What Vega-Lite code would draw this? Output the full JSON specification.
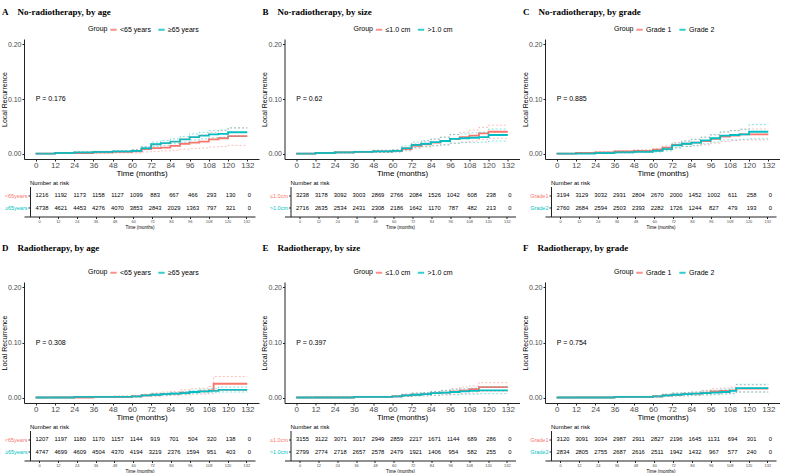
{
"$schema":"https://vega.github.io/schema/vega-lite/v6.json",
"padding":{"left":0,"top":7,"right":0,"bottom":0},
"config":{
 "view":{"stroke":null},
 "font":"Liberation Sans",
 "axis":{"grid":false,"domainColor":"#222","tickColor":"#222","labelColor":"#4D4D4D","titleColor":"black","titleFontWeight":"normal","labelFont":"Liberation Sans","titleFont":"Liberation Sans","tickSize":2},
 "axisX":{"labelFontSize":8,"titleFontSize":8,"labelPadding":0,"titlePadding":0,"labelFlush":false},
 "axisY":{"labelFontSize":7,"titleFontSize":7,"labelPadding":1,"titlePadding":3,"minExtent":14,"maxExtent":14},
 "title":{"font":"Liberation Serif","fontWeight":"bold","fontSize":9,"anchor":"start","color":"black","offset":8.5,"dx":2,"frame":"bounds"},
 "legend":{"orient":"none","direction":"horizontal","titleOrient":"left","symbolType":"stroke","symbolStrokeWidth":2,"symbolSize":40,"labelFontSize":7,"titleFontSize":7,"titleFontWeight":"normal","titleColor":"black","labelColor":"black","columnPadding":3,"titlePadding":1,"labelOffset":2,"legendY":-14}
},
"datasets":{
 "pvals":[
  {"p":"A","t":0,"e":0.1,"label":"P = 0.176"},{"p":"B","t":0,"e":0.1,"label":"P = 0.62"},{"p":"C","t":0,"e":0.1,"label":"P = 0.885"},
  {"p":"D","t":0,"e":0.1,"label":"P = 0.308"},{"p":"E","t":0,"e":0.1,"label":"P = 0.397"},{"p":"F","t":0,"e":0.1,"label":"P = 0.754"}
 ],
 "curves":[
  {"p":"A","g":"<65 years","t":0,"e":0,"l":0,"h":0},{"p":"A","g":"<65 years","t":12,"e":0.001,"l":0,"h":0.002},{"p":"A","g":"<65 years","t":24,"e":0.001,"l":0,"h":0.003},{"p":"A","g":"<65 years","t":36,"e":0.002,"l":0,"h":0.004},{"p":"A","g":"<65 years","t":48,"e":0.003,"l":0.001,"h":0.005},{"p":"A","g":"<65 years","t":60,"e":0.004,"l":0.001,"h":0.007},{"p":"A","g":"<65 years","t":66,"e":0.008,"l":0.003,"h":0.012},{"p":"A","g":"<65 years","t":72,"e":0.010,"l":0.004,"h":0.016},{"p":"A","g":"<65 years","t":78,"e":0.011,"l":0.005,"h":0.018},{"p":"A","g":"<65 years","t":84,"e":0.014,"l":0.006,"h":0.022},{"p":"A","g":"<65 years","t":90,"e":0.018,"l":0.008,"h":0.027},{"p":"A","g":"<65 years","t":96,"e":0.020,"l":0.009,"h":0.031},{"p":"A","g":"<65 years","t":102,"e":0.022,"l":0.010,"h":0.034},{"p":"A","g":"<65 years","t":108,"e":0.026,"l":0.012,"h":0.039},{"p":"A","g":"<65 years","t":114,"e":0.028,"l":0.013,"h":0.042},{"p":"A","g":"<65 years","t":120,"e":0.032,"l":0.015,"h":0.047},{"p":"A","g":"<65 years","t":132,"e":0.032,"l":0.015,"h":0.047},
  {"p":"A","g":"≥65 years","t":0,"e":0,"l":0,"h":0},{"p":"A","g":"≥65 years","t":12,"e":0.001,"l":0,"h":0.002},{"p":"A","g":"≥65 years","t":24,"e":0.002,"l":0.001,"h":0.003},{"p":"A","g":"≥65 years","t":36,"e":0.003,"l":0.002,"h":0.004},{"p":"A","g":"≥65 years","t":48,"e":0.004,"l":0.003,"h":0.005},{"p":"A","g":"≥65 years","t":60,"e":0.005,"l":0.004,"h":0.007},{"p":"A","g":"≥65 years","t":66,"e":0.010,"l":0.007,"h":0.013},{"p":"A","g":"≥65 years","t":72,"e":0.017,"l":0.013,"h":0.021},{"p":"A","g":"≥65 years","t":78,"e":0.019,"l":0.015,"h":0.024},{"p":"A","g":"≥65 years","t":84,"e":0.022,"l":0.018,"h":0.027},{"p":"A","g":"≥65 years","t":90,"e":0.026,"l":0.021,"h":0.031},{"p":"A","g":"≥65 years","t":96,"e":0.030,"l":0.025,"h":0.036},{"p":"A","g":"≥65 years","t":102,"e":0.033,"l":0.027,"h":0.039},{"p":"A","g":"≥65 years","t":108,"e":0.035,"l":0.029,"h":0.042},{"p":"A","g":"≥65 years","t":114,"e":0.036,"l":0.030,"h":0.043},{"p":"A","g":"≥65 years","t":120,"e":0.039,"l":0.032,"h":0.047},{"p":"A","g":"≥65 years","t":132,"e":0.039,"l":0.032,"h":0.047},
  {"p":"B","g":"≤1.0 cm","t":0,"e":0,"l":0,"h":0},{"p":"B","g":"≤1.0 cm","t":12,"e":0.001,"l":0,"h":0.002},{"p":"B","g":"≤1.0 cm","t":24,"e":0.002,"l":0.001,"h":0.003},{"p":"B","g":"≤1.0 cm","t":36,"e":0.003,"l":0.002,"h":0.004},{"p":"B","g":"≤1.0 cm","t":48,"e":0.004,"l":0.002,"h":0.006},{"p":"B","g":"≤1.0 cm","t":60,"e":0.005,"l":0.003,"h":0.007},{"p":"B","g":"≤1.0 cm","t":66,"e":0.008,"l":0.005,"h":0.011},{"p":"B","g":"≤1.0 cm","t":72,"e":0.014,"l":0.010,"h":0.018},{"p":"B","g":"≤1.0 cm","t":78,"e":0.017,"l":0.012,"h":0.022},{"p":"B","g":"≤1.0 cm","t":84,"e":0.020,"l":0.014,"h":0.026},{"p":"B","g":"≤1.0 cm","t":90,"e":0.023,"l":0.016,"h":0.030},{"p":"B","g":"≤1.0 cm","t":96,"e":0.027,"l":0.019,"h":0.035},{"p":"B","g":"≤1.0 cm","t":102,"e":0.030,"l":0.021,"h":0.039},{"p":"B","g":"≤1.0 cm","t":108,"e":0.033,"l":0.023,"h":0.043},{"p":"B","g":"≤1.0 cm","t":114,"e":0.037,"l":0.026,"h":0.048},{"p":"B","g":"≤1.0 cm","t":120,"e":0.040,"l":0.028,"h":0.052},{"p":"B","g":"≤1.0 cm","t":132,"e":0.040,"l":0.028,"h":0.052},
  {"p":"B","g":">1.0 cm","t":0,"e":0,"l":0,"h":0},{"p":"B","g":">1.0 cm","t":12,"e":0.001,"l":0,"h":0.002},{"p":"B","g":">1.0 cm","t":24,"e":0.002,"l":0.001,"h":0.003},{"p":"B","g":">1.0 cm","t":36,"e":0.003,"l":0.002,"h":0.004},{"p":"B","g":">1.0 cm","t":48,"e":0.004,"l":0.002,"h":0.006},{"p":"B","g":">1.0 cm","t":60,"e":0.005,"l":0.003,"h":0.007},{"p":"B","g":">1.0 cm","t":66,"e":0.010,"l":0.006,"h":0.014},{"p":"B","g":">1.0 cm","t":72,"e":0.016,"l":0.011,"h":0.021},{"p":"B","g":">1.0 cm","t":78,"e":0.018,"l":0.013,"h":0.024},{"p":"B","g":">1.0 cm","t":84,"e":0.021,"l":0.015,"h":0.027},{"p":"B","g":">1.0 cm","t":90,"e":0.023,"l":0.016,"h":0.030},{"p":"B","g":">1.0 cm","t":96,"e":0.027,"l":0.019,"h":0.035},{"p":"B","g":">1.0 cm","t":102,"e":0.028,"l":0.020,"h":0.036},{"p":"B","g":">1.0 cm","t":108,"e":0.029,"l":0.020,"h":0.038},{"p":"B","g":">1.0 cm","t":114,"e":0.030,"l":0.021,"h":0.039},{"p":"B","g":">1.0 cm","t":120,"e":0.034,"l":0.023,"h":0.045},{"p":"B","g":">1.0 cm","t":132,"e":0.034,"l":0.023,"h":0.045},
  {"p":"C","g":"Grade 1","t":0,"e":0,"l":0,"h":0},{"p":"C","g":"Grade 1","t":12,"e":0.001,"l":0,"h":0.002},{"p":"C","g":"Grade 1","t":24,"e":0.002,"l":0.001,"h":0.003},{"p":"C","g":"Grade 1","t":36,"e":0.004,"l":0.002,"h":0.005},{"p":"C","g":"Grade 1","t":48,"e":0.005,"l":0.003,"h":0.007},{"p":"C","g":"Grade 1","t":60,"e":0.007,"l":0.004,"h":0.009},{"p":"C","g":"Grade 1","t":66,"e":0.011,"l":0.007,"h":0.014},{"p":"C","g":"Grade 1","t":72,"e":0.016,"l":0.011,"h":0.020},{"p":"C","g":"Grade 1","t":78,"e":0.018,"l":0.013,"h":0.023},{"p":"C","g":"Grade 1","t":84,"e":0.020,"l":0.014,"h":0.026},{"p":"C","g":"Grade 1","t":90,"e":0.023,"l":0.016,"h":0.030},{"p":"C","g":"Grade 1","t":96,"e":0.027,"l":0.019,"h":0.034},{"p":"C","g":"Grade 1","t":102,"e":0.031,"l":0.022,"h":0.039},{"p":"C","g":"Grade 1","t":108,"e":0.033,"l":0.024,"h":0.042},{"p":"C","g":"Grade 1","t":114,"e":0.035,"l":0.025,"h":0.045},{"p":"C","g":"Grade 1","t":120,"e":0.035,"l":0.025,"h":0.045},{"p":"C","g":"Grade 1","t":132,"e":0.035,"l":0.025,"h":0.045},
  {"p":"C","g":"Grade 2","t":0,"e":0,"l":0,"h":0},{"p":"C","g":"Grade 2","t":12,"e":0,"l":0,"h":0.001},{"p":"C","g":"Grade 2","t":24,"e":0.001,"l":0,"h":0.002},{"p":"C","g":"Grade 2","t":36,"e":0.002,"l":0.001,"h":0.003},{"p":"C","g":"Grade 2","t":48,"e":0.003,"l":0.002,"h":0.005},{"p":"C","g":"Grade 2","t":60,"e":0.005,"l":0.003,"h":0.007},{"p":"C","g":"Grade 2","t":66,"e":0.008,"l":0.005,"h":0.011},{"p":"C","g":"Grade 2","t":72,"e":0.015,"l":0.010,"h":0.019},{"p":"C","g":"Grade 2","t":78,"e":0.018,"l":0.013,"h":0.023},{"p":"C","g":"Grade 2","t":84,"e":0.020,"l":0.015,"h":0.026},{"p":"C","g":"Grade 2","t":90,"e":0.024,"l":0.018,"h":0.030},{"p":"C","g":"Grade 2","t":96,"e":0.028,"l":0.021,"h":0.035},{"p":"C","g":"Grade 2","t":102,"e":0.033,"l":0.025,"h":0.040},{"p":"C","g":"Grade 2","t":108,"e":0.034,"l":0.025,"h":0.042},{"p":"C","g":"Grade 2","t":114,"e":0.035,"l":0.026,"h":0.044},{"p":"C","g":"Grade 2","t":120,"e":0.040,"l":0.027,"h":0.053},{"p":"C","g":"Grade 2","t":132,"e":0.040,"l":0.027,"h":0.053},
  {"p":"D","g":"<65 years","t":0,"e":0,"l":0,"h":0},{"p":"D","g":"<65 years","t":12,"e":0,"l":0,"h":0.001},{"p":"D","g":"<65 years","t":24,"e":0,"l":0,"h":0.001},{"p":"D","g":"<65 years","t":36,"e":0.001,"l":0,"h":0.002},{"p":"D","g":"<65 years","t":48,"e":0.001,"l":0,"h":0.003},{"p":"D","g":"<65 years","t":60,"e":0.002,"l":0.001,"h":0.004},{"p":"D","g":"<65 years","t":66,"e":0.004,"l":0.002,"h":0.006},{"p":"D","g":"<65 years","t":72,"e":0.005,"l":0.002,"h":0.008},{"p":"D","g":"<65 years","t":78,"e":0.006,"l":0.003,"h":0.010},{"p":"D","g":"<65 years","t":84,"e":0.007,"l":0.004,"h":0.011},{"p":"D","g":"<65 years","t":90,"e":0.009,"l":0.005,"h":0.014},{"p":"D","g":"<65 years","t":96,"e":0.010,"l":0.006,"h":0.016},{"p":"D","g":"<65 years","t":102,"e":0.011,"l":0.006,"h":0.017},{"p":"D","g":"<65 years","t":108,"e":0.013,"l":0.007,"h":0.020},{"p":"D","g":"<65 years","t":111,"e":0.025,"l":0.013,"h":0.038},{"p":"D","g":"<65 years","t":120,"e":0.025,"l":0.013,"h":0.038},{"p":"D","g":"<65 years","t":132,"e":0.025,"l":0.013,"h":0.038},
  {"p":"D","g":"≥65 years","t":0,"e":0,"l":0,"h":0},{"p":"D","g":"≥65 years","t":12,"e":0,"l":0,"h":0.001},{"p":"D","g":"≥65 years","t":24,"e":0.001,"l":0,"h":0.001},{"p":"D","g":"≥65 years","t":36,"e":0.001,"l":0,"h":0.002},{"p":"D","g":"≥65 years","t":48,"e":0.001,"l":0.001,"h":0.002},{"p":"D","g":"≥65 years","t":60,"e":0.002,"l":0.001,"h":0.003},{"p":"D","g":"≥65 years","t":66,"e":0.004,"l":0.003,"h":0.005},{"p":"D","g":"≥65 years","t":72,"e":0.005,"l":0.004,"h":0.007},{"p":"D","g":"≥65 years","t":78,"e":0.006,"l":0.004,"h":0.008},{"p":"D","g":"≥65 years","t":84,"e":0.007,"l":0.005,"h":0.009},{"p":"D","g":"≥65 years","t":90,"e":0.008,"l":0.006,"h":0.011},{"p":"D","g":"≥65 years","t":96,"e":0.010,"l":0.007,"h":0.013},{"p":"D","g":"≥65 years","t":102,"e":0.011,"l":0.008,"h":0.015},{"p":"D","g":"≥65 years","t":108,"e":0.012,"l":0.009,"h":0.016},{"p":"D","g":"≥65 years","t":114,"e":0.014,"l":0.010,"h":0.019},{"p":"D","g":"≥65 years","t":120,"e":0.014,"l":0.010,"h":0.019},{"p":"D","g":"≥65 years","t":132,"e":0.014,"l":0.010,"h":0.019},
  {"p":"E","g":"≤1.0 cm","t":0,"e":0,"l":0,"h":0},{"p":"E","g":"≤1.0 cm","t":12,"e":0,"l":0,"h":0.001},{"p":"E","g":"≤1.0 cm","t":24,"e":0,"l":0,"h":0.001},{"p":"E","g":"≤1.0 cm","t":36,"e":0.001,"l":0,"h":0.002},{"p":"E","g":"≤1.0 cm","t":48,"e":0.001,"l":0,"h":0.002},{"p":"E","g":"≤1.0 cm","t":60,"e":0.002,"l":0.001,"h":0.003},{"p":"E","g":"≤1.0 cm","t":66,"e":0.004,"l":0.002,"h":0.006},{"p":"E","g":"≤1.0 cm","t":72,"e":0.005,"l":0.003,"h":0.008},{"p":"E","g":"≤1.0 cm","t":78,"e":0.006,"l":0.003,"h":0.009},{"p":"E","g":"≤1.0 cm","t":84,"e":0.008,"l":0.004,"h":0.011},{"p":"E","g":"≤1.0 cm","t":90,"e":0.009,"l":0.005,"h":0.013},{"p":"E","g":"≤1.0 cm","t":96,"e":0.011,"l":0.006,"h":0.016},{"p":"E","g":"≤1.0 cm","t":102,"e":0.013,"l":0.007,"h":0.019},{"p":"E","g":"≤1.0 cm","t":108,"e":0.015,"l":0.008,"h":0.021},{"p":"E","g":"≤1.0 cm","t":114,"e":0.019,"l":0.011,"h":0.027},{"p":"E","g":"≤1.0 cm","t":120,"e":0.019,"l":0.011,"h":0.027},{"p":"E","g":"≤1.0 cm","t":132,"e":0.019,"l":0.011,"h":0.027},
  {"p":"E","g":">1.0 cm","t":0,"e":0,"l":0,"h":0},{"p":"E","g":">1.0 cm","t":12,"e":0,"l":0,"h":0.001},{"p":"E","g":">1.0 cm","t":24,"e":0,"l":0,"h":0.001},{"p":"E","g":">1.0 cm","t":36,"e":0.001,"l":0,"h":0.002},{"p":"E","g":">1.0 cm","t":48,"e":0.001,"l":0,"h":0.002},{"p":"E","g":">1.0 cm","t":60,"e":0.002,"l":0.001,"h":0.003},{"p":"E","g":">1.0 cm","t":66,"e":0.004,"l":0.002,"h":0.006},{"p":"E","g":">1.0 cm","t":72,"e":0.005,"l":0.003,"h":0.008},{"p":"E","g":">1.0 cm","t":78,"e":0.006,"l":0.003,"h":0.009},{"p":"E","g":">1.0 cm","t":84,"e":0.008,"l":0.004,"h":0.011},{"p":"E","g":">1.0 cm","t":90,"e":0.009,"l":0.005,"h":0.013},{"p":"E","g":">1.0 cm","t":96,"e":0.010,"l":0.005,"h":0.015},{"p":"E","g":">1.0 cm","t":102,"e":0.011,"l":0.006,"h":0.016},{"p":"E","g":">1.0 cm","t":108,"e":0.012,"l":0.006,"h":0.017},{"p":"E","g":">1.0 cm","t":114,"e":0.013,"l":0.007,"h":0.019},{"p":"E","g":">1.0 cm","t":120,"e":0.013,"l":0.007,"h":0.019},{"p":"E","g":">1.0 cm","t":132,"e":0.013,"l":0.007,"h":0.019},
  {"p":"F","g":"Grade 1","t":0,"e":0,"l":0,"h":0},{"p":"F","g":"Grade 1","t":12,"e":0,"l":0,"h":0.001},{"p":"F","g":"Grade 1","t":24,"e":0,"l":0,"h":0.001},{"p":"F","g":"Grade 1","t":36,"e":0.001,"l":0,"h":0.002},{"p":"F","g":"Grade 1","t":48,"e":0.001,"l":0,"h":0.002},{"p":"F","g":"Grade 1","t":60,"e":0.002,"l":0.001,"h":0.003},{"p":"F","g":"Grade 1","t":66,"e":0.004,"l":0.002,"h":0.006},{"p":"F","g":"Grade 1","t":72,"e":0.005,"l":0.003,"h":0.008},{"p":"F","g":"Grade 1","t":78,"e":0.006,"l":0.003,"h":0.009},{"p":"F","g":"Grade 1","t":84,"e":0.007,"l":0.004,"h":0.010},{"p":"F","g":"Grade 1","t":90,"e":0.009,"l":0.005,"h":0.013},{"p":"F","g":"Grade 1","t":96,"e":0.011,"l":0.006,"h":0.016},{"p":"F","g":"Grade 1","t":102,"e":0.012,"l":0.007,"h":0.017},{"p":"F","g":"Grade 1","t":108,"e":0.013,"l":0.008,"h":0.019},{"p":"F","g":"Grade 1","t":112,"e":0.016,"l":0.010,"h":0.023},{"p":"F","g":"Grade 1","t":120,"e":0.016,"l":0.010,"h":0.023},{"p":"F","g":"Grade 1","t":132,"e":0.016,"l":0.010,"h":0.023},
  {"p":"F","g":"Grade 2","t":0,"e":0,"l":0,"h":0},{"p":"F","g":"Grade 2","t":12,"e":0,"l":0,"h":0.001},{"p":"F","g":"Grade 2","t":24,"e":0,"l":0,"h":0.001},{"p":"F","g":"Grade 2","t":36,"e":0.001,"l":0,"h":0.002},{"p":"F","g":"Grade 2","t":48,"e":0.001,"l":0,"h":0.002},{"p":"F","g":"Grade 2","t":60,"e":0.002,"l":0.001,"h":0.003},{"p":"F","g":"Grade 2","t":66,"e":0.004,"l":0.002,"h":0.006},{"p":"F","g":"Grade 2","t":72,"e":0.005,"l":0.003,"h":0.008},{"p":"F","g":"Grade 2","t":78,"e":0.006,"l":0.003,"h":0.009},{"p":"F","g":"Grade 2","t":84,"e":0.007,"l":0.004,"h":0.010},{"p":"F","g":"Grade 2","t":90,"e":0.008,"l":0.005,"h":0.012},{"p":"F","g":"Grade 2","t":96,"e":0.009,"l":0.005,"h":0.013},{"p":"F","g":"Grade 2","t":102,"e":0.010,"l":0.006,"h":0.015},{"p":"F","g":"Grade 2","t":108,"e":0.012,"l":0.007,"h":0.017},{"p":"F","g":"Grade 2","t":112,"e":0.017,"l":0.010,"h":0.024},{"p":"F","g":"Grade 2","t":120,"e":0.017,"l":0.010,"h":0.024},{"p":"F","g":"Grade 2","t":132,"e":0.017,"l":0.010,"h":0.024}
 ],
 "risk":[
  {"p":"A","g":"<65years","t":0,"n":1216},{"p":"A","g":"<65years","t":12,"n":1192},{"p":"A","g":"<65years","t":24,"n":1173},{"p":"A","g":"<65years","t":36,"n":1158},{"p":"A","g":"<65years","t":48,"n":1127},{"p":"A","g":"<65years","t":60,"n":1099},{"p":"A","g":"<65years","t":72,"n":883},{"p":"A","g":"<65years","t":84,"n":667},{"p":"A","g":"<65years","t":96,"n":466},{"p":"A","g":"<65years","t":108,"n":293},{"p":"A","g":"<65years","t":120,"n":130},{"p":"A","g":"<65years","t":132,"n":0},
  {"p":"A","g":"≥65years","t":0,"n":4738},{"p":"A","g":"≥65years","t":12,"n":4621},{"p":"A","g":"≥65years","t":24,"n":4453},{"p":"A","g":"≥65years","t":36,"n":4276},{"p":"A","g":"≥65years","t":48,"n":4070},{"p":"A","g":"≥65years","t":60,"n":3853},{"p":"A","g":"≥65years","t":72,"n":2843},{"p":"A","g":"≥65years","t":84,"n":2029},{"p":"A","g":"≥65years","t":96,"n":1363},{"p":"A","g":"≥65years","t":108,"n":797},{"p":"A","g":"≥65years","t":120,"n":321},{"p":"A","g":"≥65years","t":132,"n":0},
  {"p":"B","g":"≤1.0cm","t":0,"n":3238},{"p":"B","g":"≤1.0cm","t":12,"n":3178},{"p":"B","g":"≤1.0cm","t":24,"n":3092},{"p":"B","g":"≤1.0cm","t":36,"n":3003},{"p":"B","g":"≤1.0cm","t":48,"n":2869},{"p":"B","g":"≤1.0cm","t":60,"n":2766},{"p":"B","g":"≤1.0cm","t":72,"n":2084},{"p":"B","g":"≤1.0cm","t":84,"n":1526},{"p":"B","g":"≤1.0cm","t":96,"n":1042},{"p":"B","g":"≤1.0cm","t":108,"n":608},{"p":"B","g":"≤1.0cm","t":120,"n":238},{"p":"B","g":"≤1.0cm","t":132,"n":0},
  {"p":"B","g":">1.0cm","t":0,"n":2716},{"p":"B","g":">1.0cm","t":12,"n":2635},{"p":"B","g":">1.0cm","t":24,"n":2534},{"p":"B","g":">1.0cm","t":36,"n":2431},{"p":"B","g":">1.0cm","t":48,"n":2308},{"p":"B","g":">1.0cm","t":60,"n":2186},{"p":"B","g":">1.0cm","t":72,"n":1642},{"p":"B","g":">1.0cm","t":84,"n":1170},{"p":"B","g":">1.0cm","t":96,"n":787},{"p":"B","g":">1.0cm","t":108,"n":482},{"p":"B","g":">1.0cm","t":120,"n":213},{"p":"B","g":">1.0cm","t":132,"n":0},
  {"p":"C","g":"Grade1","t":0,"n":3194},{"p":"C","g":"Grade1","t":12,"n":3129},{"p":"C","g":"Grade1","t":24,"n":3032},{"p":"C","g":"Grade1","t":36,"n":2931},{"p":"C","g":"Grade1","t":48,"n":2804},{"p":"C","g":"Grade1","t":60,"n":2670},{"p":"C","g":"Grade1","t":72,"n":2000},{"p":"C","g":"Grade1","t":84,"n":1452},{"p":"C","g":"Grade1","t":96,"n":1002},{"p":"C","g":"Grade1","t":108,"n":611},{"p":"C","g":"Grade1","t":120,"n":258},{"p":"C","g":"Grade1","t":132,"n":0},
  {"p":"C","g":"Grade2","t":0,"n":2760},{"p":"C","g":"Grade2","t":12,"n":2684},{"p":"C","g":"Grade2","t":24,"n":2594},{"p":"C","g":"Grade2","t":36,"n":2503},{"p":"C","g":"Grade2","t":48,"n":2393},{"p":"C","g":"Grade2","t":60,"n":2282},{"p":"C","g":"Grade2","t":72,"n":1726},{"p":"C","g":"Grade2","t":84,"n":1244},{"p":"C","g":"Grade2","t":96,"n":827},{"p":"C","g":"Grade2","t":108,"n":479},{"p":"C","g":"Grade2","t":120,"n":193},{"p":"C","g":"Grade2","t":132,"n":0},
  {"p":"D","g":"<65years","t":0,"n":1207},{"p":"D","g":"<65years","t":12,"n":1197},{"p":"D","g":"<65years","t":24,"n":1180},{"p":"D","g":"<65years","t":36,"n":1170},{"p":"D","g":"<65years","t":48,"n":1157},{"p":"D","g":"<65years","t":60,"n":1144},{"p":"D","g":"<65years","t":72,"n":919},{"p":"D","g":"<65years","t":84,"n":701},{"p":"D","g":"<65years","t":96,"n":504},{"p":"D","g":"<65years","t":108,"n":320},{"p":"D","g":"<65years","t":120,"n":138},{"p":"D","g":"<65years","t":132,"n":0},
  {"p":"D","g":"≥65years","t":0,"n":4747},{"p":"D","g":"≥65years","t":12,"n":4699},{"p":"D","g":"≥65years","t":24,"n":4609},{"p":"D","g":"≥65years","t":36,"n":4504},{"p":"D","g":"≥65years","t":48,"n":4370},{"p":"D","g":"≥65years","t":60,"n":4194},{"p":"D","g":"≥65years","t":72,"n":3219},{"p":"D","g":"≥65years","t":84,"n":2376},{"p":"D","g":"≥65years","t":96,"n":1594},{"p":"D","g":"≥65years","t":108,"n":951},{"p":"D","g":"≥65years","t":120,"n":403},{"p":"D","g":"≥65years","t":132,"n":0},
  {"p":"E","g":"≤1.0cm","t":0,"n":3155},{"p":"E","g":"≤1.0cm","t":12,"n":3122},{"p":"E","g":"≤1.0cm","t":24,"n":3071},{"p":"E","g":"≤1.0cm","t":36,"n":3017},{"p":"E","g":"≤1.0cm","t":48,"n":2949},{"p":"E","g":"≤1.0cm","t":60,"n":2859},{"p":"E","g":"≤1.0cm","t":72,"n":2217},{"p":"E","g":"≤1.0cm","t":84,"n":1671},{"p":"E","g":"≤1.0cm","t":96,"n":1144},{"p":"E","g":"≤1.0cm","t":108,"n":689},{"p":"E","g":"≤1.0cm","t":120,"n":286},{"p":"E","g":"≤1.0cm","t":132,"n":0},
  {"p":"E","g":">1.0cm","t":0,"n":2799},{"p":"E","g":">1.0cm","t":12,"n":2774},{"p":"E","g":">1.0cm","t":24,"n":2718},{"p":"E","g":">1.0cm","t":36,"n":2657},{"p":"E","g":">1.0cm","t":48,"n":2578},{"p":"E","g":">1.0cm","t":60,"n":2479},{"p":"E","g":">1.0cm","t":72,"n":1921},{"p":"E","g":">1.0cm","t":84,"n":1406},{"p":"E","g":">1.0cm","t":96,"n":954},{"p":"E","g":">1.0cm","t":108,"n":582},{"p":"E","g":">1.0cm","t":120,"n":255},{"p":"E","g":">1.0cm","t":132,"n":0},
  {"p":"F","g":"Grade1","t":0,"n":3120},{"p":"F","g":"Grade1","t":12,"n":3091},{"p":"F","g":"Grade1","t":24,"n":3034},{"p":"F","g":"Grade1","t":36,"n":2987},{"p":"F","g":"Grade1","t":48,"n":2911},{"p":"F","g":"Grade1","t":60,"n":2827},{"p":"F","g":"Grade1","t":72,"n":2196},{"p":"F","g":"Grade1","t":84,"n":1645},{"p":"F","g":"Grade1","t":96,"n":1131},{"p":"F","g":"Grade1","t":108,"n":694},{"p":"F","g":"Grade1","t":120,"n":301},{"p":"F","g":"Grade1","t":132,"n":0},
  {"p":"F","g":"Grade2","t":0,"n":2834},{"p":"F","g":"Grade2","t":12,"n":2805},{"p":"F","g":"Grade2","t":24,"n":2755},{"p":"F","g":"Grade2","t":36,"n":2687},{"p":"F","g":"Grade2","t":48,"n":2616},{"p":"F","g":"Grade2","t":60,"n":2511},{"p":"F","g":"Grade2","t":72,"n":1942},{"p":"F","g":"Grade2","t":84,"n":1432},{"p":"F","g":"Grade2","t":96,"n":967},{"p":"F","g":"Grade2","t":108,"n":577},{"p":"F","g":"Grade2","t":120,"n":240},{"p":"F","g":"Grade2","t":132,"n":0}
 ]
},
"columns":3,
"align":"each",
"spacing":{"row":2.5,"column":1.5},
"resolve":{"scale":{"x":"independent","y":"independent","color":"independent"}},
"concat":[
    {"title":{"text":"A\u00a0\u00a0\u00a0\u00a0No-radiotherapy, by age"},"width":235,"height":120,"data":{"name":"curves"},"transform":[{"filter":"datum.p=='A'"}],
     "encoding":{"x":{"field":"t","type":"quantitative","scale":{"domain":[-7.3,139.3],"nice":false,"zero":false},"axis":{"values":[0,12,24,36,48,60,72,84,96,108,120,132],"title":"Time (months)"}},
      "color":{"field":"g","type":"nominal","scale":{"domain":["<65 years","≥65 years"],"range":["#F8766D","#00BFC4"]},"legend":{"title":"Group","legendX":64}}},
     "layer":[
      {"mark":{"type":"line","interpolate":"step-after","strokeWidth":1.8},"encoding":{"y":{"field":"e","type":"quantitative","title":"Local Recurrence","scale":{"domain":[-0.01,0.21],"nice":false,"zero":false},"axis":{"values":[0,0.05,0.1,0.15,0.2],"format":".2f"}}}},
      {"mark":{"type":"line","interpolate":"step-after","strokeWidth":0.6,"strokeDash":[2,2],"opacity":0.8},"encoding":{"y":{"field":"l","type":"quantitative","title":"Local Recurrence"}}},
      {"mark":{"type":"line","interpolate":"step-after","strokeWidth":0.6,"strokeDash":[2,2],"opacity":0.8},"encoding":{"y":{"field":"h","type":"quantitative","title":"Local Recurrence"}}},
      {"data":{"name":"pvals"},"transform":[{"filter":"datum.p=='A'"}],"mark":{"type":"text","align":"left","fontSize":7},"encoding":{"x":{"field":"t","type":"quantitative"},"y":{"field":"e","type":"quantitative","title":"Local Recurrence"},"text":{"field":"label"},"color":{"value":"black"}}}
     ]},
    {"title":{"text":"B\u00a0\u00a0\u00a0\u00a0No-radiotherapy, by size"},"width":235,"height":120,"data":{"name":"curves"},"transform":[{"filter":"datum.p=='B'"}],
     "encoding":{"x":{"field":"t","type":"quantitative","scale":{"domain":[-7.3,139.3],"nice":false,"zero":false},"axis":{"values":[0,12,24,36,48,60,72,84,96,108,120,132],"title":"Time (months)"}},
      "color":{"field":"g","type":"nominal","scale":{"domain":["≤1.0 cm",">1.0 cm"],"range":["#F8766D","#00BFC4"]},"legend":{"title":"Group","legendX":69}}},
     "layer":[
      {"mark":{"type":"line","interpolate":"step-after","strokeWidth":1.8},"encoding":{"y":{"field":"e","type":"quantitative","title":"Local Recurrence","scale":{"domain":[-0.01,0.21],"nice":false,"zero":false},"axis":{"values":[0,0.05,0.1,0.15,0.2],"format":".2f"}}}},
      {"mark":{"type":"line","interpolate":"step-after","strokeWidth":0.6,"strokeDash":[2,2],"opacity":0.8},"encoding":{"y":{"field":"l","type":"quantitative","title":"Local Recurrence"}}},
      {"mark":{"type":"line","interpolate":"step-after","strokeWidth":0.6,"strokeDash":[2,2],"opacity":0.8},"encoding":{"y":{"field":"h","type":"quantitative","title":"Local Recurrence"}}},
      {"data":{"name":"pvals"},"transform":[{"filter":"datum.p=='B'"}],"mark":{"type":"text","align":"left","fontSize":7},"encoding":{"x":{"field":"t","type":"quantitative"},"y":{"field":"e","type":"quantitative","title":"Local Recurrence"},"text":{"field":"label"},"color":{"value":"black"}}}
     ]},
    {"title":{"text":"C\u00a0\u00a0\u00a0\u00a0No-radiotherapy, by grade"},"width":235,"height":120,"data":{"name":"curves"},"transform":[{"filter":"datum.p=='C'"}],
     "encoding":{"x":{"field":"t","type":"quantitative","scale":{"domain":[-7.3,139.3],"nice":false,"zero":false},"axis":{"values":[0,12,24,36,48,60,72,84,96,108,120,132],"title":"Time (months)"}},
      "color":{"field":"g","type":"nominal","scale":{"domain":["Grade 1","Grade 2"],"range":["#F8766D","#00BFC4"]},"legend":{"title":"Group","legendX":69}}},
     "layer":[
      {"mark":{"type":"line","interpolate":"step-after","strokeWidth":1.8},"encoding":{"y":{"field":"e","type":"quantitative","title":"Local Recurrence","scale":{"domain":[-0.01,0.21],"nice":false,"zero":false},"axis":{"values":[0,0.05,0.1,0.15,0.2],"format":".2f"}}}},
      {"mark":{"type":"line","interpolate":"step-after","strokeWidth":0.6,"strokeDash":[2,2],"opacity":0.8},"encoding":{"y":{"field":"l","type":"quantitative","title":"Local Recurrence"}}},
      {"mark":{"type":"line","interpolate":"step-after","strokeWidth":0.6,"strokeDash":[2,2],"opacity":0.8},"encoding":{"y":{"field":"h","type":"quantitative","title":"Local Recurrence"}}},
      {"data":{"name":"pvals"},"transform":[{"filter":"datum.p=='C'"}],"mark":{"type":"text","align":"left","fontSize":7},"encoding":{"x":{"field":"t","type":"quantitative"},"y":{"field":"e","type":"quantitative","title":"Local Recurrence"},"text":{"field":"label"},"color":{"value":"black"}}}
     ]},
    {"width":231,"height":30,"title":{"text":"Number at risk","font":"Liberation Sans","fontWeight":"normal","fontSize":6,"offset":1,"dx":6,"frame":"group"},"data":{"name":"risk"},"transform":[{"filter":"datum.p=='A'"}],
     "mark":{"type":"text","fontSize":5.8,"color":"black","dx":3},
     "encoding":{"x":{"field":"t","type":"quantitative","scale":{"domain":[-9.55,137.5],"nice":false,"zero":false},"axis":{"values":[0,12,24,36,48,60,72,84,96,108,120,132],"title":["Time (months)",""],"titleLineHeight":12,"labelFontSize":4,"titleFontSize":4.5,"labelPadding":1,"titlePadding":1}},
      "y":{"field":"g","type":"nominal","title":null,"scale":{"type":"point","domain":["<65years","≥65years"],"padding":0.7},"axis":{"offset":-6,"labelFontSize":5.5,"minExtent":18,"maxExtent":18,"labelColor":{"expr":"datum.value == '<65years' || datum.value == '≤1.0cm' || datum.value == 'Grade1' ? '#F8766D' : '#00BFC4'"}}},
      "text":{"field":"n","type":"quantitative","format":"d"}}},
    {"width":231,"height":30,"title":{"text":"Number at risk","font":"Liberation Sans","fontWeight":"normal","fontSize":6,"offset":1,"dx":6,"frame":"group"},"data":{"name":"risk"},"transform":[{"filter":"datum.p=='B'"}],
     "mark":{"type":"text","fontSize":5.8,"color":"black","dx":3},
     "encoding":{"x":{"field":"t","type":"quantitative","scale":{"domain":[-9.55,137.5],"nice":false,"zero":false},"axis":{"values":[0,12,24,36,48,60,72,84,96,108,120,132],"title":["Time (months)",""],"titleLineHeight":12,"labelFontSize":4,"titleFontSize":4.5,"labelPadding":1,"titlePadding":1}},
      "y":{"field":"g","type":"nominal","title":null,"scale":{"type":"point","domain":["≤1.0cm",">1.0cm"],"padding":0.7},"axis":{"offset":-6,"labelFontSize":5.5,"minExtent":18,"maxExtent":18,"labelColor":{"expr":"datum.value == '<65years' || datum.value == '≤1.0cm' || datum.value == 'Grade1' ? '#F8766D' : '#00BFC4'"}}},
      "text":{"field":"n","type":"quantitative","format":"d"}}},
    {"width":231,"height":30,"title":{"text":"Number at risk","font":"Liberation Sans","fontWeight":"normal","fontSize":6,"offset":1,"dx":6,"frame":"group"},"data":{"name":"risk"},"transform":[{"filter":"datum.p=='C'"}],
     "mark":{"type":"text","fontSize":5.8,"color":"black","dx":3},
     "encoding":{"x":{"field":"t","type":"quantitative","scale":{"domain":[-9.55,137.5],"nice":false,"zero":false},"axis":{"values":[0,12,24,36,48,60,72,84,96,108,120,132],"title":["Time (months)",""],"titleLineHeight":12,"labelFontSize":4,"titleFontSize":4.5,"labelPadding":1,"titlePadding":1}},
      "y":{"field":"g","type":"nominal","title":null,"scale":{"type":"point","domain":["Grade1","Grade2"],"padding":0.7},"axis":{"offset":-6,"labelFontSize":5.5,"minExtent":18,"maxExtent":18,"labelColor":{"expr":"datum.value == '<65years' || datum.value == '≤1.0cm' || datum.value == 'Grade1' ? '#F8766D' : '#00BFC4'"}}},
      "text":{"field":"n","type":"quantitative","format":"d"}}},
    {"title":{"text":"D\u00a0\u00a0\u00a0\u00a0Radiotherapy, by age","offset":15},"width":235,"height":121,"data":{"name":"curves"},"transform":[{"filter":"datum.p=='D'"}],
     "encoding":{"x":{"field":"t","type":"quantitative","scale":{"domain":[-7.3,139.3],"nice":false,"zero":false},"axis":{"values":[0,12,24,36,48,60,72,84,96,108,120,132],"title":"Time (months)"}},
      "color":{"field":"g","type":"nominal","scale":{"domain":["<65 years","≥65 years"],"range":["#F8766D","#00BFC4"]},"legend":{"title":"Group","legendX":64}}},
     "layer":[
      {"mark":{"type":"line","interpolate":"step-after","strokeWidth":1.8},"encoding":{"y":{"field":"e","type":"quantitative","title":"Local Recurrence","scale":{"domain":[-0.01,0.21],"nice":false,"zero":false},"axis":{"values":[0,0.05,0.1,0.15,0.2],"format":".2f"}}}},
      {"mark":{"type":"line","interpolate":"step-after","strokeWidth":0.6,"strokeDash":[2,2],"opacity":0.8},"encoding":{"y":{"field":"l","type":"quantitative","title":"Local Recurrence"}}},
      {"mark":{"type":"line","interpolate":"step-after","strokeWidth":0.6,"strokeDash":[2,2],"opacity":0.8},"encoding":{"y":{"field":"h","type":"quantitative","title":"Local Recurrence"}}},
      {"data":{"name":"pvals"},"transform":[{"filter":"datum.p=='D'"}],"mark":{"type":"text","align":"left","fontSize":7},"encoding":{"x":{"field":"t","type":"quantitative"},"y":{"field":"e","type":"quantitative","title":"Local Recurrence"},"text":{"field":"label"},"color":{"value":"black"}}}
     ]},
    {"title":{"text":"E\u00a0\u00a0\u00a0\u00a0Radiotherapy, by size","offset":15},"width":235,"height":121,"data":{"name":"curves"},"transform":[{"filter":"datum.p=='E'"}],
     "encoding":{"x":{"field":"t","type":"quantitative","scale":{"domain":[-7.3,139.3],"nice":false,"zero":false},"axis":{"values":[0,12,24,36,48,60,72,84,96,108,120,132],"title":"Time (months)"}},
      "color":{"field":"g","type":"nominal","scale":{"domain":["≤1.0 cm",">1.0 cm"],"range":["#F8766D","#00BFC4"]},"legend":{"title":"Group","legendX":69}}},
     "layer":[
      {"mark":{"type":"line","interpolate":"step-after","strokeWidth":1.8},"encoding":{"y":{"field":"e","type":"quantitative","title":"Local Recurrence","scale":{"domain":[-0.01,0.21],"nice":false,"zero":false},"axis":{"values":[0,0.05,0.1,0.15,0.2],"format":".2f"}}}},
      {"mark":{"type":"line","interpolate":"step-after","strokeWidth":0.6,"strokeDash":[2,2],"opacity":0.8},"encoding":{"y":{"field":"l","type":"quantitative","title":"Local Recurrence"}}},
      {"mark":{"type":"line","interpolate":"step-after","strokeWidth":0.6,"strokeDash":[2,2],"opacity":0.8},"encoding":{"y":{"field":"h","type":"quantitative","title":"Local Recurrence"}}},
      {"data":{"name":"pvals"},"transform":[{"filter":"datum.p=='E'"}],"mark":{"type":"text","align":"left","fontSize":7},"encoding":{"x":{"field":"t","type":"quantitative"},"y":{"field":"e","type":"quantitative","title":"Local Recurrence"},"text":{"field":"label"},"color":{"value":"black"}}}
     ]},
    {"title":{"text":"F\u00a0\u00a0\u00a0\u00a0Radiotherapy, by grade","offset":15},"width":235,"height":121,"data":{"name":"curves"},"transform":[{"filter":"datum.p=='F'"}],
     "encoding":{"x":{"field":"t","type":"quantitative","scale":{"domain":[-7.3,139.3],"nice":false,"zero":false},"axis":{"values":[0,12,24,36,48,60,72,84,96,108,120,132],"title":"Time (months)"}},
      "color":{"field":"g","type":"nominal","scale":{"domain":["Grade 1","Grade 2"],"range":["#F8766D","#00BFC4"]},"legend":{"title":"Group","legendX":69}}},
     "layer":[
      {"mark":{"type":"line","interpolate":"step-after","strokeWidth":1.8},"encoding":{"y":{"field":"e","type":"quantitative","title":"Local Recurrence","scale":{"domain":[-0.01,0.21],"nice":false,"zero":false},"axis":{"values":[0,0.05,0.1,0.15,0.2],"format":".2f"}}}},
      {"mark":{"type":"line","interpolate":"step-after","strokeWidth":0.6,"strokeDash":[2,2],"opacity":0.8},"encoding":{"y":{"field":"l","type":"quantitative","title":"Local Recurrence"}}},
      {"mark":{"type":"line","interpolate":"step-after","strokeWidth":0.6,"strokeDash":[2,2],"opacity":0.8},"encoding":{"y":{"field":"h","type":"quantitative","title":"Local Recurrence"}}},
      {"data":{"name":"pvals"},"transform":[{"filter":"datum.p=='F'"}],"mark":{"type":"text","align":"left","fontSize":7},"encoding":{"x":{"field":"t","type":"quantitative"},"y":{"field":"e","type":"quantitative","title":"Local Recurrence"},"text":{"field":"label"},"color":{"value":"black"}}}
     ]},
    {"width":231,"height":30,"title":{"text":"Number at risk","font":"Liberation Sans","fontWeight":"normal","fontSize":6,"offset":1,"dx":6,"frame":"group"},"data":{"name":"risk"},"transform":[{"filter":"datum.p=='D'"}],
     "mark":{"type":"text","fontSize":5.8,"color":"black","dx":3},
     "encoding":{"x":{"field":"t","type":"quantitative","scale":{"domain":[-9.55,137.5],"nice":false,"zero":false},"axis":{"values":[0,12,24,36,48,60,72,84,96,108,120,132],"title":"Time (months)","labelFontSize":4,"titleFontSize":4.5,"labelPadding":1,"titlePadding":1}},
      "y":{"field":"g","type":"nominal","title":null,"scale":{"type":"point","domain":["<65years","≥65years"],"padding":0.7},"axis":{"offset":-6,"labelFontSize":5.5,"minExtent":18,"maxExtent":18,"labelColor":{"expr":"datum.value == '<65years' || datum.value == '≤1.0cm' || datum.value == 'Grade1' ? '#F8766D' : '#00BFC4'"}}},
      "text":{"field":"n","type":"quantitative","format":"d"}}},
    {"width":231,"height":30,"title":{"text":"Number at risk","font":"Liberation Sans","fontWeight":"normal","fontSize":6,"offset":1,"dx":6,"frame":"group"},"data":{"name":"risk"},"transform":[{"filter":"datum.p=='E'"}],
     "mark":{"type":"text","fontSize":5.8,"color":"black","dx":3},
     "encoding":{"x":{"field":"t","type":"quantitative","scale":{"domain":[-9.55,137.5],"nice":false,"zero":false},"axis":{"values":[0,12,24,36,48,60,72,84,96,108,120,132],"title":"Time (months)","labelFontSize":4,"titleFontSize":4.5,"labelPadding":1,"titlePadding":1}},
      "y":{"field":"g","type":"nominal","title":null,"scale":{"type":"point","domain":["≤1.0cm",">1.0cm"],"padding":0.7},"axis":{"offset":-6,"labelFontSize":5.5,"minExtent":18,"maxExtent":18,"labelColor":{"expr":"datum.value == '<65years' || datum.value == '≤1.0cm' || datum.value == 'Grade1' ? '#F8766D' : '#00BFC4'"}}},
      "text":{"field":"n","type":"quantitative","format":"d"}}},
    {"width":231,"height":30,"title":{"text":"Number at risk","font":"Liberation Sans","fontWeight":"normal","fontSize":6,"offset":1,"dx":6,"frame":"group"},"data":{"name":"risk"},"transform":[{"filter":"datum.p=='F'"}],
     "mark":{"type":"text","fontSize":5.8,"color":"black","dx":3},
     "encoding":{"x":{"field":"t","type":"quantitative","scale":{"domain":[-9.55,137.5],"nice":false,"zero":false},"axis":{"values":[0,12,24,36,48,60,72,84,96,108,120,132],"title":"Time (months)","labelFontSize":4,"titleFontSize":4.5,"labelPadding":1,"titlePadding":1}},
      "y":{"field":"g","type":"nominal","title":null,"scale":{"type":"point","domain":["Grade1","Grade2"],"padding":0.7},"axis":{"offset":-6,"labelFontSize":5.5,"minExtent":18,"maxExtent":18,"labelColor":{"expr":"datum.value == '<65years' || datum.value == '≤1.0cm' || datum.value == 'Grade1' ? '#F8766D' : '#00BFC4'"}}},
      "text":{"field":"n","type":"quantitative","format":"d"}}}
]
}
